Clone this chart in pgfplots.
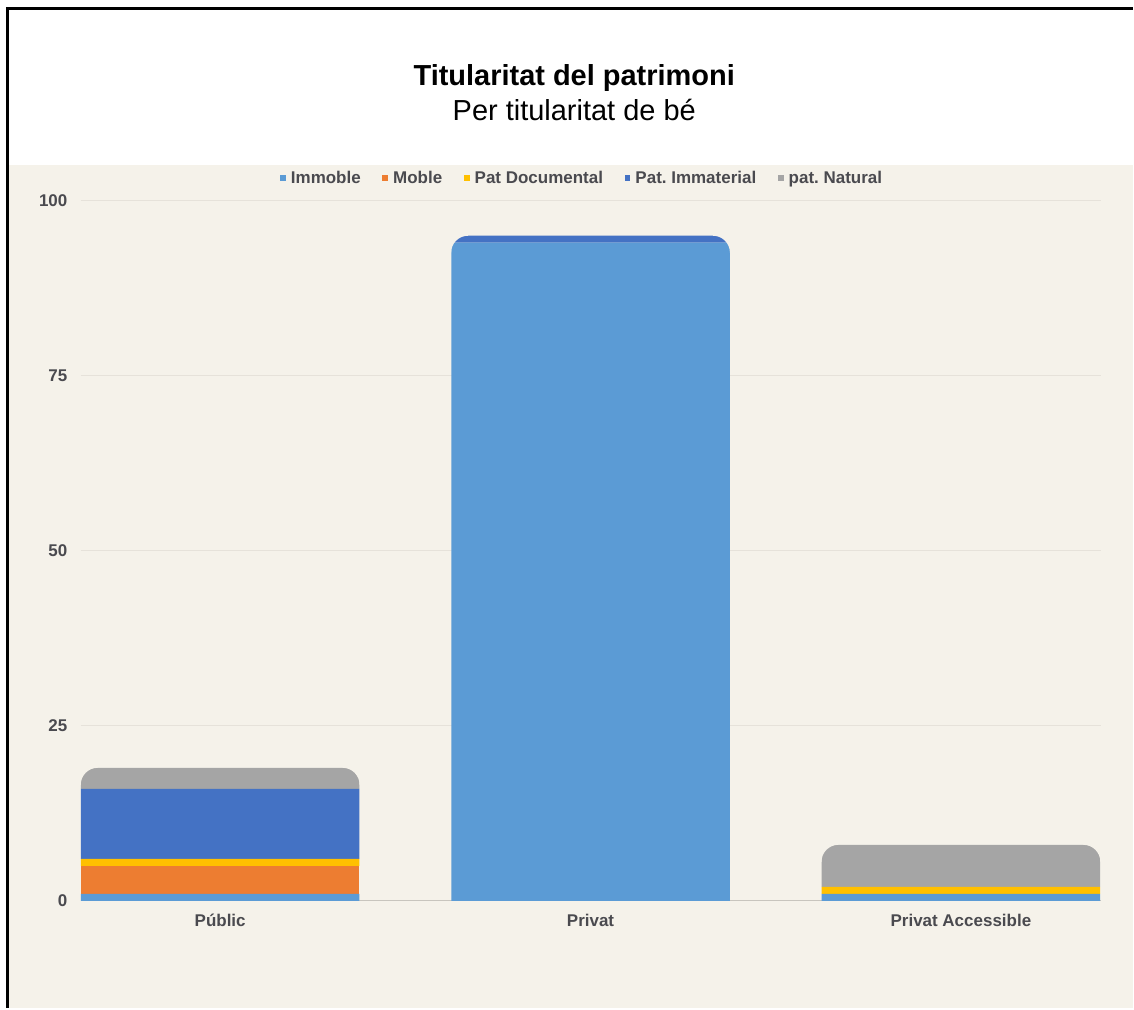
\documentclass[border=0pt]{standalone}
\usepackage{pgfplots}
\pgfplotsset{compat=1.18}
\usepackage{pgfplotstable}
\usepackage{fontspec}
\setmainfont{Liberation Sans}
\definecolor{bg}{HTML}{F5F2EA}
\definecolor{gridc}{HTML}{E6E2DA}
\definecolor{zeroc}{HTML}{C8C5BE}
\definecolor{txt}{HTML}{4A4A4F}
\definecolor{cImm}{HTML}{5B9BD5}
\definecolor{cMob}{HTML}{ED7D31}
\definecolor{cDoc}{HTML}{FFC000}
\definecolor{cInm}{HTML}{4472C4}
\definecolor{cNat}{HTML}{A5A5A5}

% rounded-top mask placed at the top of each stack
\pgfdeclareplotmark{roundtop}{%
  \pgfpathmoveto{\pgfqpoint{-141.5pt}{1pt}}%
  \pgfpathlineto{\pgfqpoint{-122.6pt}{1pt}}%
  \pgfpathlineto{\pgfqpoint{-122.6pt}{0pt}}%
  \pgfpatharc{90}{180}{17pt}%
  \pgfpathlineto{\pgfqpoint{-141.5pt}{-17pt}}%
  \pgfpathclose
  \pgfpathmoveto{\pgfqpoint{141.5pt}{1pt}}%
  \pgfpathlineto{\pgfqpoint{122.6pt}{1pt}}%
  \pgfpathlineto{\pgfqpoint{122.6pt}{0pt}}%
  \pgfpatharc{90}{0}{17pt}%
  \pgfpathlineto{\pgfqpoint{141.5pt}{-17pt}}%
  \pgfpathclose
  \pgfusepathqfill}

\pgfplotstableread{
x Immoble Moble Doc Immat Natural Total
0 1 4 1 10 3 19
1 94 0 0 1 0 95
2 1 0 1 0 6 8
}\datatable

\pgfplotsset{geom/.style={
  at={(81pt,107pt)}, anchor=south west,
  scale only axis, width=1021pt, height=701pt,
  xmin=-0.376, xmax=2.377, ymin=0, ymax=100, clip=false}}

\begin{document}
\begin{tikzpicture}[x=1pt,y=1pt]
\fill[white] (0,0) rectangle (1134,1009);
\fill[bg] (9,0) rectangle (1134,844);
\draw[black, line width=3pt] (7.5,0) -- (7.5,1000.5) -- (1134,1000.5);
\node[anchor=base, font=\fontsize{29}{34}\selectfont\bfseries] at (575,923) {Titularitat del patrimoni};
\node[anchor=base, font=\fontsize{29}{34}\selectfont] at (575,888) {Per titularitat de bé};
\begin{axis}[
  geom,
  ybar stacked, bar width=0.752,
  axis line style={draw=none},
  major tick length=0pt,
  xtick={0,1,2}, xticklabels={Públic,Privat,Privat Accessible},
  ytick={25,50,75,100},
  extra y ticks={0},
  extra y tick style={grid style={zeroc, line width=1.2pt}},
  ymajorgrids, grid style={gridc, line width=1pt},
  tick label style={font=\fontsize{17}{20}\selectfont\bfseries, text=txt},
  /pgf/number format/assume math mode=true,
  yticklabel style={xshift=-10pt},
  xticklabel style={yshift=-10pt},
  legend style={at={(0.4915,1.033)}, anchor=center, draw=none, fill=none,
    legend columns=-1, font=\fontsize{17}{20}\selectfont\bfseries, text=txt,
    /tikz/every odd column/.append style={column sep=3pt},
    /tikz/every even column/.append style={column sep=19.5pt}},
  legend image code/.code={\fill[#1] (0pt,-3pt) rectangle (6pt,3pt);},
]
\addplot[fill=cImm, draw=none] table[x=x, y=Immoble] {\datatable};
\addplot[fill=cMob, draw=none] table[x=x, y=Moble] {\datatable};
\addplot[fill=cDoc, draw=none] table[x=x, y=Doc] {\datatable};
\addplot[fill=cInm, draw=none] table[x=x, y=Immat] {\datatable};
\addplot[fill=cNat, draw=none] table[x=x, y=Natural] {\datatable};
\legend{Immoble, Moble, Pat Documental, Pat.\ Immaterial, pat.\ Natural}
\end{axis}
\begin{axis}[geom, hide axis]
\addplot[only marks, mark=roundtop, color=bg, mark options={fill=bg, draw=none}] table[x=x, y=Total] {\datatable};
\end{axis}
\end{tikzpicture}
\end{document}
